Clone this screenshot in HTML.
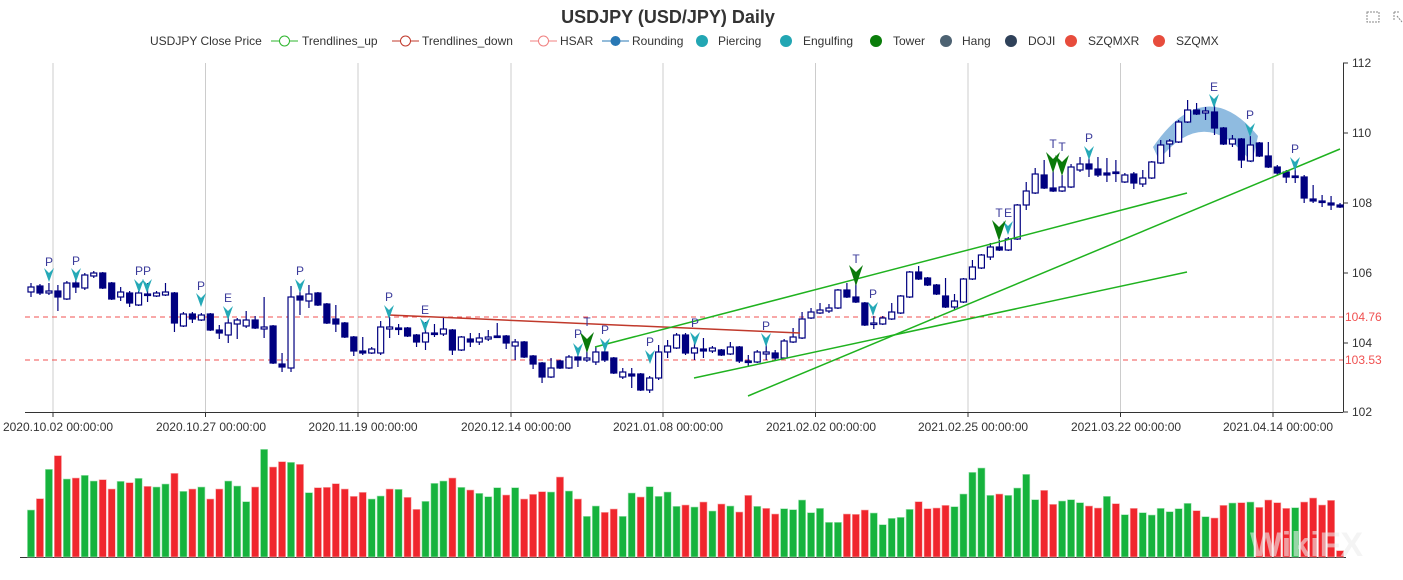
<!DOCTYPE html>
<html><head><meta charset="utf-8"><style>
html,body{margin:0;padding:0;background:#fff;width:1403px;height:580px;overflow:hidden}
svg{display:block;font-family:"Liberation Sans",sans-serif}
</style></head><body>
<svg id="s" width="1403" height="580" viewBox="0 0 1403 580" xmlns="http://www.w3.org/2000/svg">
<text x="668" y="23" text-anchor="middle" font-size="18" font-weight="bold" fill="#333">USDJPY (USD/JPY) Daily</text>
<g font-size="12" fill="#333">
<text x="150" y="45">USDJPY Close Price</text>
<line x1="271" y1="41" x2="298" y2="41" stroke="#2db52d"/><circle cx="284.5" cy="41" r="5" fill="#fff" stroke="#2db52d"/>
<text x="302" y="45">Trendlines_up</text>
<line x1="392" y1="41" x2="419" y2="41" stroke="#c0392b"/><circle cx="405.5" cy="41" r="5" fill="#fff" stroke="#c0392b"/>
<text x="422" y="45">Trendlines_down</text>
<line x1="530" y1="41" x2="557" y2="41" stroke="#f08080"/><circle cx="543.5" cy="41" r="5" fill="#fff" stroke="#f08080"/>
<text x="560" y="45">HSAR</text>
<line x1="602" y1="41" x2="629" y2="41" stroke="#2878b5"/><circle cx="615.5" cy="41" r="5" fill="#2878b5"/>
<text x="632" y="45">Rounding</text>
<circle cx="702" cy="41" r="6" fill="#22a6b3"/><text x="718" y="45">Piercing</text>
<circle cx="786" cy="41" r="6" fill="#22a6b3"/><text x="803" y="45">Engulfing</text>
<circle cx="876" cy="41" r="6" fill="#0a7d0a"/><text x="893" y="45">Tower</text>
<circle cx="946" cy="41" r="6" fill="#4d6272"/><text x="962" y="45">Hang</text>
<circle cx="1011" cy="41" r="6" fill="#2f4159"/><text x="1028" y="45">DOJI</text>
<circle cx="1071" cy="41" r="6" fill="#e74c3c"/><text x="1088" y="45">SZQMXR</text>
<circle cx="1159" cy="41" r="6" fill="#e74c3c"/><text x="1176" y="45">SZQMX</text>
</g>
<g stroke="#888" fill="none" stroke-width="1" stroke-dasharray="2,1"><rect x="1367" y="12" width="12" height="10"/><path d="M1394 12 l5 0 M1394 12 l0 8 M1397 16 l5 6"/></g>
<g stroke="#ccc"><line x1="53" y1="63" x2="53" y2="412"/><line x1="205.5" y1="63" x2="205.5" y2="412"/><line x1="358" y1="63" x2="358" y2="412"/><line x1="511" y1="63" x2="511" y2="412"/><line x1="663" y1="63" x2="663" y2="412"/><line x1="815.5" y1="63" x2="815.5" y2="412"/><line x1="968" y1="63" x2="968" y2="412"/><line x1="1120.5" y1="63" x2="1120.5" y2="412"/><line x1="1273" y1="63" x2="1273" y2="412"/></g>
<g stroke="#333"><line x1="25" y1="412.5" x2="1343" y2="412.5"/><line x1="1343.5" y1="63" x2="1343.5" y2="412"/>
<line x1="53" y1="412" x2="53" y2="417"/><line x1="205.5" y1="412" x2="205.5" y2="417"/><line x1="358" y1="412" x2="358" y2="417"/><line x1="511" y1="412" x2="511" y2="417"/><line x1="663" y1="412" x2="663" y2="417"/><line x1="815.5" y1="412" x2="815.5" y2="417"/><line x1="968" y1="412" x2="968" y2="417"/><line x1="1120.5" y1="412" x2="1120.5" y2="417"/><line x1="1273" y1="412" x2="1273" y2="417"/>
<line x1="1343" y1="63" x2="1348" y2="63"/><line x1="1343" y1="133" x2="1348" y2="133"/><line x1="1343" y1="203" x2="1348" y2="203"/><line x1="1343" y1="273" x2="1348" y2="273"/><line x1="1343" y1="343" x2="1348" y2="343"/><line x1="1343" y1="412" x2="1348" y2="412"/>
<line x1="20" y1="557.5" x2="1346" y2="557.5"/></g>
<g font-size="12" fill="#333" text-anchor="middle">
<text x="58" y="431">2020.10.02 00:00:00</text><text x="211" y="431">2020.10.27 00:00:00</text><text x="363" y="431">2020.11.19 00:00:00</text><text x="516" y="431">2020.12.14 00:00:00</text><text x="668" y="431">2021.01.08 00:00:00</text><text x="821" y="431">2021.02.02 00:00:00</text><text x="973" y="431">2021.02.25 00:00:00</text><text x="1126" y="431">2021.03.22 00:00:00</text><text x="1278" y="431">2021.04.14 00:00:00</text>
</g>
<g font-size="12" fill="#333"><text x="1352" y="67">112</text><text x="1352" y="137">110</text><text x="1352" y="207">108</text><text x="1352" y="277">106</text><text x="1352" y="347">104</text><text x="1352" y="416">102</text></g>
<g stroke="#f05050" stroke-dasharray="5,4"><line x1="25" y1="317" x2="1343" y2="317"/><line x1="25" y1="360" x2="1343" y2="360"/></g>
<g font-size="12" fill="#f05050"><text x="1345" y="321">104.76</text><text x="1345" y="364">103.53</text></g>
<path d="M1153 147 Q1205 72 1258 136 L1252 163 Q1205 102 1159 160 Z" fill="#8fbbe0"/>
<g id="candles"></g>
<g id="vol"></g>
<g stroke-width="1.5" fill="none">
<line x1="389" y1="315" x2="800" y2="333" stroke="#c0392b"/>
<line x1="595" y1="347" x2="1187" y2="193" stroke="#1fb21f"/>
<line x1="694" y1="378" x2="1187" y2="272" stroke="#1fb21f"/>
<line x1="748" y1="396" x2="1340" y2="149" stroke="#1fb21f"/>
</g>
<g id="marks"></g>
<g font-size="12" fill="#3a3a9a" text-anchor="middle">
<text x="49" y="266">P</text><text x="76" y="265">P</text><text x="139" y="275">P</text><text x="147" y="275">P</text><text x="201" y="290">P</text><text x="228" y="302">E</text><text x="300" y="275">P</text><text x="389" y="301">P</text><text x="425" y="314">E</text><text x="578" y="338">P</text><text x="587" y="326">T</text><text x="605" y="334">P</text><text x="650" y="346">P</text><text x="695" y="327">P</text><text x="766" y="330">P</text><text x="856" y="263">T</text><text x="873" y="298">P</text><text x="999" y="217">T</text><text x="1008" y="217">E</text><text x="1053" y="148">T</text><text x="1062" y="151">T</text><text x="1089" y="142">P</text><text x="1214" y="91">E</text><text x="1250" y="119">P</text><text x="1295" y="153">P</text>
</g>
<text x="1250" y="556" font-size="34" font-weight="bold" fill="#eee" opacity="0.6">WikiFX</text>
</svg>
<script>
var C=[[287,292,283,297,0],[286,293,284,295,1],[291,293,283,295,0],[291,297,285,311,1],[283,299,281,300,0],[283,287,278,293,1],[275,288,273,290,0],[273,276,271,278,0],[273,288,272,289,1],[283,299,282,300,1],[292,297,287,301,0],[293,303,291,307,1],[293,305,291,306,0],[294,295,283,302,1],[293,296,291,297,0],[292,295,283,296,0],[293,323,292,332,1],[314,326,312,327,0],[314,319,312,323,1],[315,320,313,321,0],[314,330,313,331,1],[330,333,325,339,1],[323,335,316,343,0],[320,324,318,339,0],[320,326,311,328,0],[320,328,316,329,1],[327,329,297,338,0],[326,363,325,364,1],[364,367,353,372,1],[297,368,286,372,0],[296,300,287,315,1],[294,301,285,308,0],[293,305,292,306,1],[304,323,303,324,1],[319,324,305,332,1],[323,337,322,338,1],[337,351,336,356,1],[351,353,337,355,1],[349,353,347,354,0],[327,353,321,355,0],[327,329,317,338,0],[328,329,324,335,1],[328,336,327,337,1],[335,342,334,347,1],[333,342,322,350,0],[333,334,324,337,1],[329,334,318,336,0],[330,350,329,355,1],[337,350,336,351,0],[339,342,333,347,1],[338,342,333,345,0],[337,339,330,341,0],[336,337,323,338,1],[336,343,335,349,1],[342,346,339,360,0],[342,357,341,358,1],[356,364,355,369,1],[363,377,362,383,1],[368,377,358,378,0],[361,368,360,369,1],[357,368,355,369,0],[357,360,348,367,1],[358,360,350,362,0],[352,362,347,365,0],[352,360,345,362,1],[358,373,357,374,1],[372,377,368,379,0],[374,376,368,388,1],[374,390,373,391,1],[378,390,376,393,0],[352,378,345,380,0],[346,352,340,358,0],[335,348,333,349,0],[335,353,333,355,1],[348,353,340,360,0],[349,351,338,358,1],[348,351,346,353,0],[350,355,349,356,1],[347,354,342,355,0],[347,361,346,363,1],[361,362,355,367,1],[352,362,350,363,0],[352,354,338,360,0],[353,358,350,360,1],[341,358,339,359,0],[337,342,328,343,0],[319,338,312,339,0],[312,318,308,319,0],[310,313,303,314,0],[308,311,304,313,0],[290,308,289,309,0],[290,297,283,298,1],[297,302,283,303,1],[303,325,302,326,1],[323,324,316,329,0],[318,324,316,325,0],[312,319,303,320,0],[296,313,295,314,0],[272,297,271,298,0],[272,279,266,280,1],[278,285,277,286,1],[285,294,284,295,1],[296,307,278,308,1],[301,307,294,310,0],[279,302,278,303,0],[267,279,260,280,0],[255,268,254,269,0],[247,257,243,260,0],[247,250,240,251,1],[239,250,237,251,0],[205,239,204,240,0],[191,205,182,210,0],[174,193,168,194,0],[175,188,160,189,1],[188,191,171,192,1],[187,191,175,192,0],[167,187,164,188,0],[164,170,157,172,0],[164,169,158,177,1],[169,175,157,177,1],[173,175,158,182,1],[172,173,160,182,1],[175,182,173,183,0],[174,183,172,189,1],[178,184,170,187,0],[162,178,161,179,0],[145,163,140,164,0],[141,144,139,157,0],[122,142,120,143,0],[110,122,100,123,0],[110,114,103,115,1],[111,113,107,120,0],[112,128,100,135,1],[128,144,127,145,1],[139,144,135,147,0],[139,160,138,168,1],[145,161,136,162,0],[143,156,142,157,1],[156,167,142,168,1],[167,173,165,175,1],[172,177,170,183,1],[176,177,167,183,1],[177,198,175,203,1],[199,201,185,203,1],[201,202,195,207,1],[203,205,196,210,1],[205,207,203,208,1]];
var V="210G 176R 88G 47R 117G 114R 106G 123G 119R 147R 124G 128R 115G 139R 141G 132G 100R 154G 147R 141G 177R 147R 123G 138G 185G 141R 28G 81R 65R 67G 73R 158G 143R 142R 131R 147R 169R 157R 177G 168G 147R 148G 172R 208R 184G 130G 123G 114R 142G 150R 160G 170G 143G 165R 143G 177R 163R 155R 156G 111R 153G 177R 229G 198G 217R 207R 229G 159G 171R 140G 169G 156G 199G 195R 201G 186R 213G 192R 198G 216R 166R 199G 205R 222R 206G 209G 180G 218G 205G 247G 247G 222R 223R 210R 219G 254G 235G 232G 208G 185R 206R 204R 196R 200G 162G 97G 84G 166G 162R 166G 144G 103G 179G 151R 193R 183G 179G 188G 198R 204R 169G 191R 224G 205R 218G 225G 205G 215G 206G 190G 212R 230G 234R 196R 189G 188R 186G 202R 180R 188R 205R 203G 186R 174R 195R 181R 332R".split(" ");
var ns="http://www.w3.org/2000/svg";
function el(p,t,a){var e=document.createElementNS(ns,t);for(var k in a)e.setAttribute(k,a[k]);p.appendChild(e);return e;}
var cg=document.getElementById("candles"),vg=document.getElementById("vol"),mg=document.getElementById("marks");
function X(i){return 31+8.966*i;}
C.forEach(function(c,i){var x=X(i);
el(cg,"line",{x1:x,x2:x,y1:c[2],y2:c[3],stroke:"#000080","stroke-width":1.2});
var h=Math.max(c[1]-c[0],1.5);
el(cg,"rect",{x:x-3,y:c[0],width:6,height:h,fill:c[4]?"#000080":"#fff",stroke:"#000080","stroke-width":1.2});});
V.forEach(function(v,i){var x=X(i);var t=440+parseInt(v)/3;var col=v.slice(-1)=="G"?"#16b33d":"#f0262d";
el(vg,"rect",{x:x-3.6,y:t,width:7.2,height:557-t,fill:col,stroke:col=="#16b33d"?"#a8e6b8":"#f8b0b0","stroke-width":0.6});});
var M=[[49,268,"p"],[76,268,"p"],[139,279,"p"],[147,279,"p"],[201,293,"p"],[228,306,"p"],[300,279,"p"],[389,305,"p"],[425,318,"p"],[578,343,"p"],[605,338,"p"],[650,350,"p"],[695,332,"p"],[766,333,"p"],[873,302,"p"],[1008,221,"p"],[1089,146,"p"],[1214,94,"p"],[1250,123,"p"],[1295,157,"p"],[587,332,"t"],[856,265,"t"],[999,220,"t"],[1053,152,"t"],[1062,155,"t"]];
M.forEach(function(m){var x=m[0],y=m[1];
if(m[2]=="p")el(mg,"polygon",{points:(x-5)+","+y+" "+x+","+(y+5)+" "+(x+5)+","+y+" "+x+","+(y+14),fill:"#25a9b7"});
else el(mg,"polygon",{points:(x-7)+","+y+" "+x+","+(y+7)+" "+(x+7)+","+y+" "+x+","+(y+21),fill:"#0a7a0a"});});
</script>
</body></html>
